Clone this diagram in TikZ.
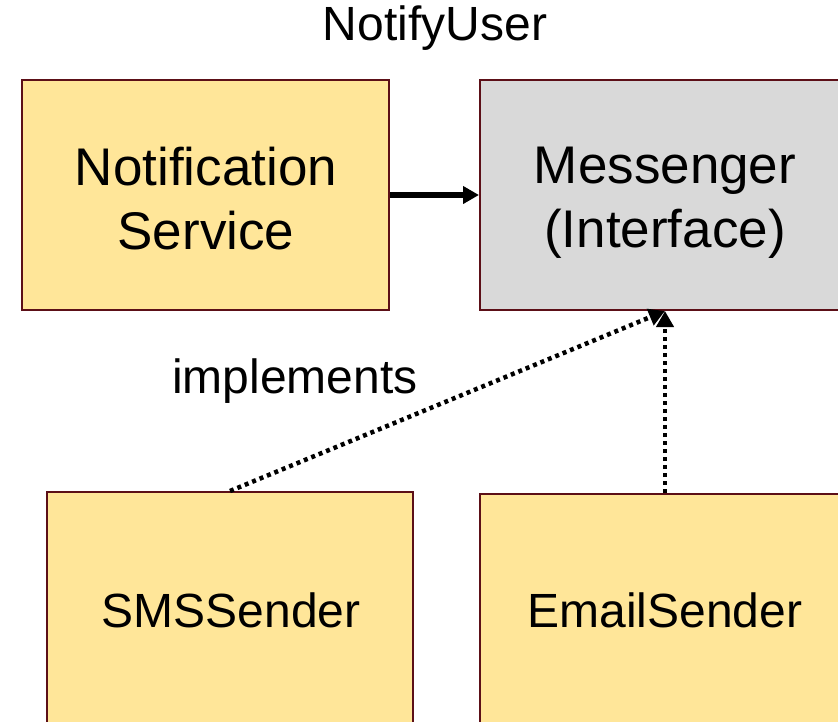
\documentclass[tikz,border=0pt]{standalone}
\usepackage{fontspec}
\setmainfont{Liberation Sans}
\usetikzlibrary{arrows.meta}
\definecolor{boxyellow}{HTML}{FFE699}
\definecolor{boxgray}{HTML}{D9D9D9}
\definecolor{boxborder}{HTML}{5C0F17}
\tikzset{
  box/.style={draw=boxborder, line width=2pt, minimum width=#1, minimum height=230pt, inner sep=0pt, align=center},
  bigtext/.style={font=\fontsize{53}{64}\selectfont, align=center, inner sep=0pt},
  smalltext/.style={font=\fontsize{48}{58}\selectfont},
  uses/.style={line width=5.5pt, -{Triangle[length=16pt,width=17pt]}},
  impl/.style={line width=4.5pt, dash pattern=on 4pt off 4pt, -{Triangle[length=16pt,width=17pt]}}
}
\begin{document}
\begin{tikzpicture}[x=1pt,y=-1pt]
\useasboundingbox (0,0) rectangle (838,721);
\clip (0,0) rectangle (838,721);
\node[box=367pt, fill=boxyellow] (notif) at (205.5,195) {};
\node[bigtext] (notift) at (206,199) {Notification\\Service};
\node[box=370pt, fill=boxgray] (msg) at (665,195) {};
\node[bigtext] (msgt) at (665,203) {Messenger\\(Interface)};
\node[box=366pt, minimum height=248pt, fill=boxyellow, smalltext] (sms) at (230,616) {};
\node[smalltext] (smst) at (231,610) {SMSSender};
\node[box=370pt, minimum height=246pt, fill=boxyellow, smalltext] (email) at (665,617) {};
\node[smalltext] (emailt) at (665,610) {EmailSender};
\node[smalltext] (title) at (435,28) {NotifyUser};
\node[smalltext] (lbl) at (295,381) {implements};
\draw[uses] (notif.east) -- (msg.west);
\draw[impl] (sms.north) -- (msg.south);
\draw[impl] (email.north) -- (msg.south);
\end{tikzpicture}
\end{document}
